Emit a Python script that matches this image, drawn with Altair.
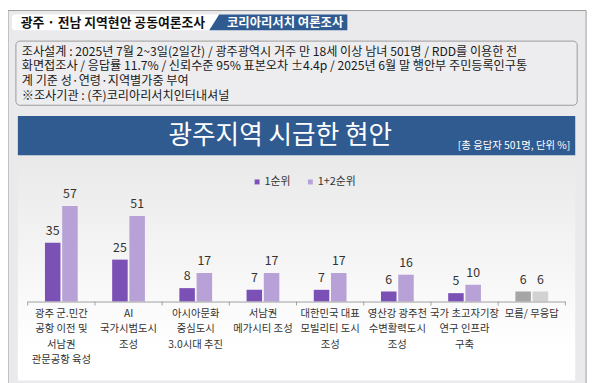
import altair as alt
import pandas as pd

# ---------------- data ----------------
categories = [
    "광주 군.민간\n공항 이전 및\n서남권\n관문공항 육성",
    "AI\n국가시범도시\n조성",
    "아시아문화\n중심도시\n3.0시대 추진",
    "서남권\n메가시티 조성",
    "대한민국 대표\n모빌리티 도시\n조성",
    "영산강 광주천\n수변활력도시\n조성",
    "국가 초고자기장\n연구 인프라\n구축",
    "모름/ 무응답",
]
series = ["1순위", "1+2순위"]
first_rank = [35, 25, 8, 7, 7, 6, 5, 6]
top_two = [57, 51, 17, 17, 17, 16, 10, 6]
tones = ["1순위", "1+2순위", "모름1", "모름2"]
tone_colors = ["#7b51b6", "#b7a1d7", "#a6a6a6", "#d2d2d2"]

header_tab = "광주 · 전남  지역현안  공동여론조사"
header_tag = "코리아리서치 여론조사"
design_lines = [
    "조사설계 : 2025년 7월 2~3일(2일간) / 광주광역시 거주 만 18세 이상 남녀 501명 / RDD를 이용한 전",
    "화면접조사 / 응답률 11.7% / 신뢰수준 95% 표본오차 ±4.4p / 2025년 6월 말 행안부 주민등록인구통",
    "계 기준 성·연령·지역별가중 부여",
    "※조사기관 : (주)코리아리서치인터내셔널",
]
title_text = "광주지역 시급한 현안"
unit_text = "[총 응답자 501명, 단위 %]"

rows = []
n = len(categories)
for i, c in enumerate(categories):
    for s, vals in zip(series, [first_rank, top_two]):
        if i == n - 1:
            tone = "모름1" if s == "1순위" else "모름2"
        else:
            tone = s
        rows.append({"cat": c, "series": s, "value": vals[i], "tone": tone})
df = pd.DataFrame(rows)
cat_df = pd.DataFrame({"cat": categories})

FONT = "Noto Sans CJK KR"
BLUE = "#2f5b91"
one = alt.Data(values=[{"k": 1}])


def box(x, x2, y, y2, **kw):
    return alt.Chart(one).mark_rect(**kw).encode(
        x=alt.value(x), x2=alt.value(x2), y=alt.value(y), y2=alt.value(y2)
    )


def label(x, y, txt, **kw):
    return alt.Chart(one).mark_text(font=FONT, **kw).encode(
        x=alt.value(x), y=alt.value(y), text=alt.value(txt)
    )


# ---------------- decorations ----------------
frame = box(0, 586, 0, 380, fill="#eaeaed", stroke="#9a9a9a", strokeWidth=1)
tab_white = box(4, 214, 4, 20, fill="white", cornerRadius=3)
para_path = "M-1,0.1143 L-0.857,-0.1143 L1,-0.1143 L1,0.1143 Z"
tab_blue = alt.Chart(one).mark_point(
    shape=para_path, filled=True, size=19600, color=BLUE, opacity=1, strokeWidth=0
).encode(x=alt.value(274), y=alt.value(12))
tab_text = label(13, 12.5, header_tab, fontSize=13, fontWeight="bold",
                 color="#111111", align="left", baseline="middle")
tag_text = label(222, 12.5, header_tag, fontSize=12.5, fontWeight="bold",
                 color="white", align="left", baseline="middle")

design_box = box(8, 577, 31, 96, fill="#ededf0", stroke="#9a9a9a",
                 strokeWidth=1, cornerRadius=4)
design_layers = [
    label(14, 41.8 + 14.8 * k, line, fontSize=12.3, color="#1a1a1a",
          align="left", baseline="middle")
    for k, line in enumerate(design_lines)
]

title_bar = box(10, 575, 107, 147, fill=BLUE)
title = label(276, 127, title_text, fontSize=26, color="white",
              align="center", baseline="middle")
unit = label(570, 137, unit_text, fontSize=10.5, color="white",
             align="right", baseline="middle")

grad = alt.Gradient(
    gradient="linear",
    stops=[alt.GradientStop(color="#e9e9e9", offset=0),
           alt.GradientStop(color="#ffffff", offset=0.85)],
    x1=0, x2=0, y1=0, y2=1,
)
panel = box(10, 575, 147, 375, color=grad)

# ---------------- chart ----------------
x_enc = alt.X("cat:N", scale=alt.Scale(domain=categories, range=[20, 565],
                                       paddingInner=0, paddingOuter=0), axis=None)
y_scale = alt.Scale(domain=[0, 100], range=[295, 125])
off_enc = alt.XOffset("series:N", scale=alt.Scale(domain=series, paddingInner=0.1,
                                                  paddingOuter=1))

bars = alt.Chart(df).mark_bar().encode(
    x=x_enc,
    xOffset=off_enc,
    y=alt.Y("value:Q", scale=y_scale, axis=None),
    color=alt.Color(
        "tone:N",
        scale=alt.Scale(domain=tones, range=tone_colors),
        legend=alt.Legend(
            values=series, title=None, orient="none", legendX=247, legendY=168,
            direction="horizontal", symbolType="square", symbolSize=25,
            symbolStrokeWidth=0, labelFont=FONT, labelFontSize=11,
            labelColor="#333333", columnPadding=14, labelOffset=2,
        ),
    ),
)

values = alt.Chart(df).mark_text(
    font=FONT, fontSize=12.5, color="#333333", baseline="alphabetic", dy=-8
).encode(
    x=x_enc,
    xOffset=off_enc,
    y=alt.Y("value:Q", scale=y_scale, axis=None),
    text=alt.Text("value:Q"),
)

baseline = alt.Chart(one).mark_rule(color="#a0a0a0", strokeWidth=1).encode(
    x=alt.value(20), x2=alt.value(565), y=alt.value(295.5)
)
ticks = alt.Chart(cat_df).mark_rule(color="#a0a0a0", strokeWidth=1).encode(
    x=alt.X("cat:N", bandPosition=0,
            scale=alt.Scale(domain=categories, range=[20, 565],
                            paddingInner=0, paddingOuter=0), axis=None),
    y=alt.value(295), y2=alt.value(299),
)
end_tick = alt.Chart(one).mark_rule(color="#a0a0a0", strokeWidth=1).encode(
    x=alt.value(565), y=alt.value(295), y2=alt.value(299)
)

cat_labels = alt.Chart(cat_df).mark_text(
    font=FONT, fontSize=10.5, color="#333333", baseline="top",
    lineBreak="\n", lineHeight=15.3, align="center",
).encode(
    x=x_enc,
    y=alt.value(303),
    text="cat:N",
)

chart = alt.layer(
    frame, tab_white, tab_blue, tab_text, tag_text, design_box, *design_layers,
    title_bar, title, unit, panel, bars, values, baseline, ticks, end_tick,
    cat_labels,
).properties(
    width=592, height=375, padding=0,
    autosize=alt.AutoSizeParams(type="none"),
    background="white",
).configure_view(stroke=None)

chart.save("out.html", embed_options={"renderer": "svg", "actions": False})
